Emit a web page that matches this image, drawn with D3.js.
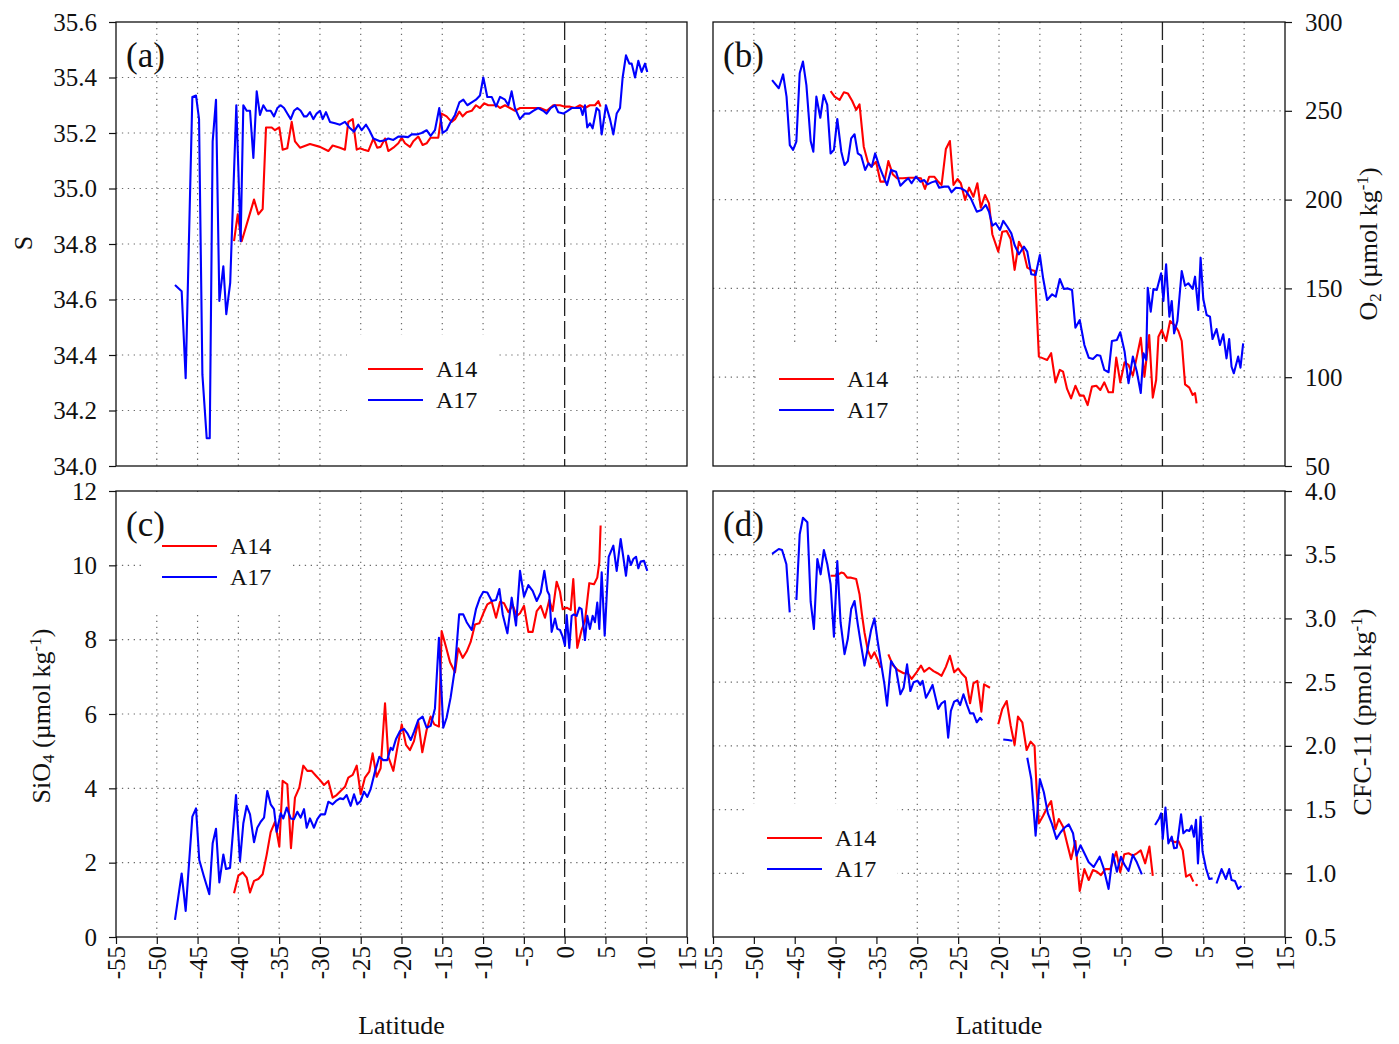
<!DOCTYPE html>
<html>
<head>
<meta charset="utf-8">
<script src="https://cdn.jsdelivr.net/npm/d3@7"></script>
<style>
  html, body { margin: 0; padding: 0; background: #fff; }
  svg { display: block; font-family: "Liberation Serif", "Times New Roman", serif; }
</style>
</head>
<body>
<svg id="chart" width="1399" height="1044"></svg>
<script>
// ---- Section data: [latitude, value]; null marks a break in the section ----
const latTicks = [-55, -50, -45, -40, -35, -30, -25, -20, -15, -10, -5, 0, 5, 10, 15];
const salTicks = [34.0, 34.2, 34.4, 34.6, 34.8, 35.0, 35.2, 35.4, 35.6];
const oxyTicks = [50, 100, 150, 200, 250, 300];
const silTicks = [0, 2, 4, 6, 8, 10, 12];
const cfcTicks = [0.5, 1.0, 1.5, 2.0, 2.5, 3.0, 3.5, 4.0];
const sectionNames = ["A14", "A17"];

const salA14 = [[-40.53,34.81],[-40.08,34.907],[-39.59,34.81],[-38.08,34.96],[-37.55,34.907],[-37.02,34.926],[-36.61,35.22],[-35.91,35.22],[-35.51,35.21],[-34.98,35.22],[-34.57,35.14],[-34.0,35.145],[-33.46,35.24],[-33.06,35.17],[-32.44,35.147],[-31.22,35.16],[-29.99,35.15],[-28.97,35.135],[-28.44,35.155],[-27.54,35.147],[-26.93,35.14],[-26.52,35.24],[-25.98,35.25],[-25.49,35.14],[-25.09,35.145],[-24.6,35.14],[-24.07,35.135],[-23.45,35.18],[-22.98,35.147],[-22.56,35.15],[-22.02,35.18],[-21.62,35.135],[-21.0,35.147],[-20.39,35.163],[-19.98,35.183],[-19.57,35.163],[-18.96,35.15],[-18.55,35.17],[-17.94,35.187],[-17.41,35.157],[-16.92,35.163],[-16.43,35.183],[-15.9,35.183],[-15.49,35.183],[-15.08,35.27],[-14.47,35.26],[-13.86,35.24],[-13.44,35.25],[-12.91,35.277],[-12.5,35.26],[-12.01,35.275],[-11.39,35.28],[-10.87,35.30],[-10.38,35.29],[-9.89,35.307],[-9.36,35.30],[-8.82,35.30],[-8.33,35.30],[-7.92,35.29],[-7.31,35.30],[-6.7,35.29],[-6.09,35.28],[-5.47,35.29],[-4.86,35.29],[-4.25,35.29],[-3.63,35.29],[-3.02,35.29],[-2.2,35.28],[-1.4,35.30],[-0.99,35.30],[-0.57,35.30],[0.04,35.295],[0.66,35.295],[1.27,35.29],[1.88,35.30],[2.49,35.29],[3.1,35.30],[3.72,35.30],[4.13,35.315],[4.41,35.295]];

const salA17 = [[-47.77,34.652],[-46.95,34.63],[-46.46,34.316],[-45.64,35.33],[-45.19,35.335],[-44.82,35.25],[-44.41,34.33],[-43.88,34.10],[-43.51,34.10],[-43.15,35.17],[-42.74,35.32],[-42.33,34.595],[-41.84,34.72],[-41.48,34.547],[-41.0,34.66],[-40.25,35.30],[-39.72,34.81],[-39.39,35.30],[-38.98,35.28],[-38.57,35.28],[-38.16,35.11],[-37.75,35.35],[-37.35,35.265],[-36.94,35.30],[-36.53,35.28],[-36.04,35.28],[-35.63,35.26],[-35.22,35.29],[-34.81,35.30],[-34.40,35.29],[-34.0,35.27],[-33.58,35.25],[-33.18,35.28],[-32.77,35.29],[-32.36,35.28],[-31.95,35.26],[-31.62,35.26],[-31.22,35.275],[-30.81,35.25],[-30.40,35.27],[-29.99,35.28],[-29.66,35.25],[-29.26,35.275],[-28.77,35.24],[-28.15,35.235],[-27.54,35.23],[-26.93,35.24],[-26.40,35.22],[-25.82,35.205],[-25.29,35.23],[-24.88,35.21],[-24.35,35.23],[-23.94,35.21],[-23.45,35.18],[-22.64,35.17],[-22.02,35.174],[-21.62,35.18],[-21.0,35.175],[-20.39,35.187],[-19.78,35.187],[-19.2,35.185],[-18.75,35.195],[-18.14,35.195],[-17.53,35.20],[-16.92,35.21],[-16.43,35.19],[-15.9,35.21],[-15.37,35.29],[-14.96,35.20],[-14.47,35.21],[-14.05,35.235],[-13.44,35.265],[-12.91,35.31],[-12.42,35.32],[-11.93,35.30],[-11.39,35.31],[-10.87,35.32],[-10.38,35.335],[-9.97,35.40],[-9.48,35.33],[-8.94,35.33],[-8.41,35.295],[-7.92,35.33],[-7.31,35.32],[-6.90,35.30],[-6.5,35.35],[-6.1,35.29],[-5.49,35.25],[-4.88,35.27],[-4.34,35.27],[-3.85,35.28],[-3.24,35.29],[-2.63,35.28],[-2.21,35.27],[-1.72,35.29],[-1.18,35.30],[-0.78,35.275],[-0.16,35.27],[0.37,35.28],[0.86,35.29],[1.39,35.29],[1.96,35.29],[2.2,35.265],[2.49,35.30],[2.77,35.22],[3.1,35.235],[3.43,35.217],[3.92,35.29],[4.25,35.28],[4.54,35.195],[5.07,35.30],[5.56,35.25],[5.97,35.195],[6.38,35.27],[6.79,35.29],[7.11,35.40],[7.52,35.48],[7.93,35.45],[8.22,35.45],[8.63,35.40],[9.03,35.46],[9.44,35.42],[9.85,35.45],[10.13,35.42]];

const oxyA14 = [[-40.61,261.1],[-40.12,258],[-39.51,256.1],[-38.98,260.4],[-38.5,259.8],[-37.96,255.5],[-37.48,250.5],[-37.07,253.6],[-36.55,229.8],[-36.06,221.3],[-35.65,218.5],[-35.04,221.3],[-34.51,210.1],[-34.02,210.1],[-33.54,221.7],[-33.01,214.3],[-32.48,212],[-31.8,212],[-30.98,212.3],[-30.16,212.3],[-29.55,212],[-29.06,206],[-28.54,212.9],[-27.93,212.9],[-27.52,210.5],[-27.03,208.2],[-26.5,228.5],[-26.01,233],[-25.57,208.2],[-25.08,211.6],[-24.67,209.2],[-24.15,199.8],[-23.66,206.7],[-23.13,201.6],[-22.65,209.2],[-22.23,195.5],[-21.71,202.6],[-21.22,197.9],[-20.82,180.5],[-20.09,170.7],[-19.6,181.9],[-19.06,182.3],[-18.57,177.8],[-18.09,160.4],[-17.56,176.3],[-17.04,171.6],[-16.54,161.7],[-16.05,160.4],[-15.6,159.8],[-15.12,111.6],[-14.6,110.6],[-14.11,109.7],[-13.62,113.5],[-13.09,97.1],[-12.56,104.1],[-12.16,103.1],[-11.67,93.4],[-11.18,88.1],[-10.65,95.2],[-10.12,89.6],[-9.63,89.6],[-9.15,84.3],[-8.62,94.7],[-8.09,95.2],[-7.6,92.8],[-7.11,97.1],[-6.59,91.5],[-6.06,91.5],[-5.65,111],[-5.16,97.1],[-4.63,108.4],[-4.15,106.9],[-3.62,100.9],[-3.13,111.6],[-2.65,122.2],[-2.2,100.3],[-1.62,123.8],[-1.18,88.5],[-0.77,98.4],[-0.49,122.8],[-0.09,126.6],[0.45,120.4],[0.94,131.6],[1.55,129],[1.95,126],[2.36,120.4],[2.77,96],[3.29,94.1],[3.7,90],[3.99,91],[4.18,85.3]];

const oxyA17 = [[-47.77,267.3],[-46.95,262.7],[-46.42,270.5],[-46.0,258],[-45.6,230.7],[-45.2,228],[-44.8,232.6],[-44.39,271.1],[-43.99,277.7],[-43.57,264.5],[-43.05,233],[-42.72,227],[-42.35,258],[-41.87,246.1],[-41.46,258.9],[-41.02,253.3],[-40.61,226],[-40.2,228],[-39.79,245.4],[-39.3,227],[-38.9,219.5],[-38.5,221.7],[-38.09,234.5],[-37.68,236.8],[-37.28,226],[-36.87,224.7],[-36.38,216.7],[-35.98,220.4],[-35.57,218.5],[-35.16,226],[-34.63,218.5],[-34.23,213.9],[-33.7,208.2],[-33.21,216.7],[-32.6,215.7],[-32.07,207.8],[-31.59,210.1],[-31.1,212],[-30.7,209.2],[-30.16,212.9],[-29.63,210.1],[-29.15,211],[-28.74,208.6],[-28.25,209.7],[-27.72,210.5],[-27.32,206.7],[-26.71,207.3],[-26.18,207.3],[-25.81,204.1],[-25.28,206.7],[-24.67,206.4],[-24.06,204.8],[-23.45,200.7],[-22.72,193.2],[-22.16,194.1],[-21.62,197],[-21.22,193.2],[-20.81,185.3],[-20.4,186.7],[-19.88,182.9],[-19.48,188],[-18.98,184.7],[-18.49,181],[-18.09,174.4],[-17.56,169.2],[-16.95,173.5],[-16.54,170.7],[-16.05,158],[-15.52,157.5],[-15.0,168.8],[-14.6,155.7],[-14.11,143.5],[-13.5,146.7],[-13.05,145.3],[-12.56,155.3],[-12.07,149.7],[-11.59,150],[-11.06,149.1],[-10.65,127.9],[-10.12,132.2],[-9.55,118.1],[-9.02,111],[-8.5,110.3],[-8.01,112.5],[-7.6,112.1],[-7.11,104.1],[-6.59,102.8],[-6.18,120.4],[-5.57,121],[-5.16,125.3],[-4.63,114.4],[-4.15,96.6],[-3.62,111.6],[-3.13,103.1],[-2.65,91.1],[-2.32,113.5],[-1.99,109.7],[-1.8,150.4],[-1.43,136.9],[-1.1,149.7],[-0.69,149.1],[-0.16,158.5],[0.12,142.9],[0.45,163.6],[0.85,134.1],[1.14,142.9],[1.43,124.7],[1.83,131.6],[2.36,159.8],[2.77,151.5],[3.17,152.9],[3.7,149.7],[3.99,156.6],[4.39,137.8],[4.67,167.3],[5.0,144],[5.41,135],[5.82,134.1],[6.13,121.5],[6.62,127.1],[7.04,118.1],[7.44,124.2],[7.84,110.6],[8.17,121.5],[8.46,105.9],[8.74,102.2],[9.27,111.6],[9.55,105.4],[9.88,119.1]];

const silA14 = [[-40.53,1.18],[-40.0,1.65],[-39.47,1.74],[-38.98,1.60],[-38.57,1.20],[-38.08,1.51],[-37.55,1.56],[-37.02,1.69],[-36.53,2.21],[-36.04,2.82],[-35.51,3.10],[-34.98,2.43],[-34.57,4.20],[-34.0,4.11],[-33.55,2.39],[-33.06,3.75],[-32.53,4.02],[-32.04,4.61],[-31.55,4.47],[-31.02,4.47],[-30.49,4.34],[-29.99,4.22],[-29.5,4.09],[-28.97,4.20],[-28.44,3.75],[-27.95,3.82],[-27.46,3.93],[-26.93,4.04],[-26.52,4.29],[-25.98,4.36],[-25.49,4.61],[-25.0,3.84],[-24.48,4.29],[-23.95,4.45],[-23.54,4.94],[-23.05,4.31],[-22.56,4.54],[-22.02,6.29],[-21.62,4.85],[-21.0,4.47],[-20.51,5.09],[-19.97,5.72],[-19.45,5.17],[-18.96,5.03],[-18.47,5.27],[-17.94,5.79],[-17.45,4.97],[-16.92,5.57],[-16.43,5.93],[-15.98,5.72],[-15.41,5.66],[-15.08,8.23],[-14.55,7.81],[-14.05,7.39],[-13.44,7.12],[-13.04,7.77],[-12.5,7.51],[-12.01,7.68],[-11.52,7.94],[-10.99,8.41],[-10.46,8.44],[-9.97,8.71],[-9.48,8.95],[-8.94,9.02],[-8.41,8.59],[-7.92,9.02],[-7.43,8.98],[-6.9,8.74],[-6.37,8.93],[-5.88,8.64],[-5.47,8.71],[-4.98,8.91],[-4.45,8.21],[-3.92,8.21],[-3.42,8.77],[-2.93,8.91],[-2.41,8.59],[-1.88,9.07],[-1.47,8.77],[-0.98,9.56],[-0.57,9.29],[-0.24,8.82],[0.25,8.86],[0.74,8.80],[1.06,9.63],[1.55,7.78],[2.08,8.26],[2.49,8.50],[3.02,9.52],[3.6,9.49],[4.0,9.67],[4.25,10.08],[4.41,11.07]];

const silA17 = [[-47.77,0.46],[-46.95,1.71],[-46.46,0.70],[-45.64,3.24],[-45.19,3.46],[-44.79,2.07],[-44.21,1.62],[-43.56,1.15],[-43.15,2.52],[-42.74,2.91],[-42.33,1.47],[-41.84,2.22],[-41.51,1.83],[-41.02,1.86],[-40.29,3.82],[-39.8,2.04],[-39.39,3.06],[-38.98,3.53],[-38.57,3.30],[-38.08,2.55],[-37.68,2.94],[-37.26,3.10],[-36.85,3.21],[-36.45,3.93],[-36.04,3.57],[-35.63,3.44],[-35.3,2.83],[-34.81,3.33],[-34.49,3.19],[-34.07,3.48],[-33.58,3.19],[-33.18,3.17],[-32.77,3.37],[-32.36,3.21],[-31.95,3.44],[-31.62,2.94],[-31.22,3.19],[-30.73,2.94],[-30.32,3.17],[-29.91,3.30],[-29.38,3.30],[-28.97,3.64],[-28.44,3.57],[-28.03,3.66],[-27.54,3.73],[-27.13,3.71],[-26.72,3.82],[-26.23,3.53],[-25.82,3.84],[-25.42,3.57],[-25.0,3.66],[-24.6,3.91],[-24.19,3.77],[-23.78,3.98],[-23.25,4.45],[-22.72,4.85],[-22.23,4.76],[-21.74,4.76],[-21.33,5.09],[-21.08,5.03],[-20.67,5.33],[-20.18,5.54],[-19.69,5.60],[-19.28,5.48],[-18.87,5.30],[-18.47,5.52],[-17.94,5.84],[-17.41,5.93],[-16.92,5.63],[-16.43,5.68],[-15.9,6.15],[-15.41,8.05],[-14.88,5.63],[-14.47,5.90],[-13.98,6.44],[-13.45,7.23],[-12.93,8.68],[-12.43,8.68],[-12.01,8.47],[-11.39,8.26],[-10.87,8.82],[-10.38,9.13],[-9.97,9.29],[-9.48,9.27],[-8.94,9.04],[-8.41,9.07],[-8.0,9.36],[-7.59,8.68],[-7.02,8.17],[-6.49,9.13],[-5.96,8.38],[-5.47,9.85],[-4.98,9.16],[-4.45,9.47],[-3.92,9.31],[-3.42,9.04],[-2.93,9.27],[-2.49,9.85],[-2.12,9.31],[-1.88,9.20],[-1.59,8.21],[-1.18,8.57],[-0.9,8.29],[-0.57,8.26],[-0.24,8.08],[0.04,7.84],[0.25,8.66],[0.57,7.78],[0.86,8.64],[1.14,8.68],[1.47,8.64],[1.8,8.86],[2.08,8.82],[2.49,7.99],[2.78,8.64],[3.1,8.29],[3.43,8.64],[3.72,8.47],[4.0,9.0],[4.25,8.29],[4.54,9.81],[4.91,8.11],[5.4,10.23],[5.97,10.53],[6.38,9.85],[6.87,10.71],[7.52,9.72],[7.8,10.26],[8.13,10.01],[8.42,10.17],[8.75,10.23],[9.03,9.92],[9.32,10.10],[9.73,10.12],[10.13,9.85]];

const cfcA14 = [[-40.61,3.335],[-39.91,3.335],[-39.3,3.36],[-38.98,3.354],[-38.58,3.32],[-38.09,3.32],[-37.48,3.31],[-37.07,3.19],[-36.79,3.04],[-36.46,2.89],[-36.06,2.752],[-35.65,2.687],[-35.24,2.734],[-34.84,2.674],[-34.51,2.613],null,
  [-33.54,2.718],[-33.01,2.635],[-32.4,2.595],[-31.67,2.57],[-31.18,2.57],[-30.69,2.525],[-30.16,2.57],[-29.55,2.63],[-29.15,2.582],[-28.54,2.613],[-28.01,2.587],[-27.52,2.57],[-27.03,2.55],[-26.5,2.62],[-26.01,2.707],[-25.49,2.577],[-25.0,2.608],[-24.59,2.57],[-24.06,2.535],[-23.54,2.334],[-23.13,2.49],[-22.65,2.51],[-22.16,2.268],[-21.83,2.483],[-21.1,2.456],null,
  [-20.09,2.17],[-19.6,2.29],[-19.06,2.352],[-18.57,2.158],[-18.09,2.007],[-17.68,2.23],[-17.15,2.185],[-16.62,1.967],[-16.13,2.033],[-15.65,2.0],[-15.4,1.66],[-15.12,1.392],[-14.6,1.452],[-14.11,1.515],[-13.62,1.567],[-13.09,1.347],[-12.68,1.426],[-12.16,1.366],[-11.67,1.235],[-11.18,1.11],[-10.65,1.253],[-10.12,0.861],[-9.55,1.033],[-9.02,0.947],[-8.5,1.026],[-8.01,1.012],[-7.52,0.986],[-6.99,1.033],[-6.38,1.033],[-5.65,1.17],[-5.16,1.008],[-4.67,1.15],[-4.15,1.157],[-3.62,1.138],[-3.13,1.157],[-2.65,1.18],[-2.11,1.078],[-1.59,1.21],[-1.18,0.98],null,
  [0.94,1.261],[1.55,1.243],[1.95,1.253],[2.48,1.18],[2.89,0.973],[3.38,0.992],[3.78,0.934],null,
  [4.18,0.908]];

const cfcA17 = [[-47.77,3.506],[-46.95,3.545],[-46.55,3.537],[-46.02,3.425],[-45.61,3.048],null,
  [-44.79,3.145],[-44.39,3.66],[-43.99,3.79],[-43.45,3.754],[-43.05,3.131],[-42.65,2.917],[-42.23,3.466],[-41.83,3.346],[-41.43,3.537],[-41.01,3.425],[-40.61,3.268],[-40.2,2.857],[-39.79,3.45],[-39.39,2.97],[-38.9,2.72],[-38.5,2.84],[-38.09,3.074],[-37.68,3.137],[-37.28,2.954],[-36.87,2.786],[-36.46,2.63],[-36.06,2.766],[-35.65,2.91],[-35.24,3.0],[-34.84,2.817],[-34.43,2.648],[-34.02,2.483],[-33.7,2.315],[-33.21,2.666],[-32.6,2.603],[-32.07,2.405],[-31.67,2.456],[-31.25,2.64],[-30.85,2.43],[-30.45,2.50],[-29.96,2.51],[-29.63,2.478],[-29.35,2.51],[-28.94,2.378],[-28.54,2.425],[-28.13,2.478],[-27.44,2.29],[-27.03,2.334],[-26.62,2.352],[-26.22,2.064],[-25.89,2.274],[-25.49,2.347],[-25.08,2.36],[-24.76,2.32],[-24.35,2.405],[-23.94,2.326],[-23.54,2.255],[-23.13,2.255],[-22.72,2.185],[-22.32,2.22],[-22.04,2.20],null,
  [-19.48,2.05],[-18.9,2.046],[-18.37,2.04],null,
  [-16.54,1.907],[-16.05,1.74],[-15.52,1.295],[-15.0,1.74],[-14.51,1.636],[-14.02,1.47],[-13.5,1.384],[-12.97,1.27],[-12.48,1.32],[-11.99,1.357],[-11.46,1.384],[-10.94,1.314],[-10.52,1.138],[-10.03,1.22],[-9.55,1.157],[-9.02,1.086],[-8.41,1.05],[-7.68,1.13],[-7.2,1.04],[-6.59,0.877],[-6.06,1.15],[-5.57,1.012],[-5.08,1.13],[-4.67,1.07],[-4.15,1.018],[-3.62,1.144],[-3.13,1.086],[-2.52,0.992],null,
  [-0.9,1.379],[-0.41,1.43],[-0.16,1.47],[0.04,1.27],[0.37,1.515],[0.73,1.235],[1.14,1.287],[1.43,1.196],[1.75,1.2],[2.28,1.463],[2.56,1.314],[2.97,1.34],[3.29,1.332],[3.57,1.374],[3.86,1.287],[4.11,1.42],[4.35,1.078],[4.67,1.444],[4.91,1.17],[5.33,1.04],[5.73,0.955],[6.14,0.96],null,
  [6.62,0.92],[7.24,1.033],[7.77,0.955],[8.17,1.033],[8.46,0.947],[8.87,0.94],[9.27,0.877],[9.67,0.90]];

// ---- Layout ----
const FONT = "'Liberation Serif', 'Times New Roman', serif";
const TICK_FS = 25;
const seriesColors = { A14: "#ff0000", A17: "#0000ff" };
const plain = d => String(d);   // hyphen-minus for negative latitudes

const panels = [
  { tag: "(a)", x0: 116, x1: 687, y0: 22, y1: 466, domain: [34.0, 35.6], ticks: salTicks, fmt: d3.format(".1f"),
    side: "left", bottomAxis: false, series: { A14: salA14, A17: salA17 },
    legend: { x: 368, y: 369, box: "below" } },
  { tag: "(b)", x0: 713, x1: 1285, y0: 22, y1: 466, domain: [50, 300], ticks: oxyTicks, fmt: plain,
    side: "right", bottomAxis: false, series: { A14: oxyA14, A17: oxyA17 },
    legend: { x: 779, y: 379, box: "below" } },
  { tag: "(c)", x0: 116, x1: 687, y0: 491, y1: 937, domain: [0, 12], ticks: silTicks, fmt: plain,
    side: "left", bottomAxis: true, series: { A14: silA14, A17: silA17 },
    legend: { x: 162, y: 546, box: "above" } },
  { tag: "(d)", x0: 713, x1: 1285, y0: 491, y1: 937, domain: [0.5, 4.0], ticks: cfcTicks, fmt: d3.format(".1f"),
    side: "right", bottomAxis: true, series: { A14: cfcA14, A17: cfcA17 },
    legend: { x: 767, y: 838, box: "below" } }
];

const svg = d3.select("#chart");

panels.forEach(p => {
  const x = d3.scaleLinear().domain([-55, 15]).range([p.x0, p.x1]);
  const y = d3.scaleLinear().domain(p.domain).range([p.y1, p.y0]);
  const g = svg.append("g");

  // dotted grid
  const grid = g.append("g").attr("stroke", "#6a6a6a").attr("stroke-width", 1.2)
    .attr("stroke-dasharray", "1.3,4.6");
  grid.selectAll("line.v").data(latTicks.filter(t => t > -55 && t < 15 && t !== 0)).join("line")
    .attr("x1", d => x(d)).attr("x2", d => x(d)).attr("y1", p.y0).attr("y2", p.y1);
  grid.selectAll("line.h").data(p.ticks.slice(1, -1)).join("line")
    .attr("x1", p.x0).attr("x2", p.x1).attr("y1", d => y(d)).attr("y2", d => y(d));

  // legend background clears the grid behind it
  const L = p.legend;
  const bx0 = L.x - 21, bx1 = L.x + 130;
  const by0 = L.box === "below" ? L.y - 34 : p.y0 + 1;
  const by1 = L.box === "below" ? p.y1 - 1 : L.y + 67;
  g.append("rect").attr("x", bx0).attr("y", by0).attr("width", bx1 - bx0).attr("height", by1 - by0)
    .attr("fill", "#fff");

  // equator
  g.append("line").attr("x1", x(0)).attr("x2", x(0)).attr("y1", p.y0).attr("y2", p.y1)
    .attr("stroke", "#222").attr("stroke-width", 1.3).attr("stroke-dasharray", "18,5");

  // section lines
  const line = d3.line().defined(d => d !== null)
    .x(d => x(d[0])).y(d => y(d[1]));
  sectionNames.forEach(name => {
    const data = p.series[name];
    g.append("path").datum(data).attr("d", line).attr("fill", "none")
      .attr("stroke", seriesColors[name]).attr("stroke-width", 2.1).attr("stroke-linejoin", "round");
    // isolated samples shown as dots
    const lone = data.filter((d, i) => d !== null && (i === 0 || data[i - 1] === null) &&
      (i === data.length - 1 || data[i + 1] === null));
    g.selectAll(null).data(lone).join("circle")
      .attr("cx", d => x(d[0])).attr("cy", d => y(d[1])).attr("r", 1.3)
      .attr("fill", seriesColors[name]);
  });

  // legend
  sectionNames.forEach((name, i) => {
    const ly = L.y + i * 31;
    g.append("line").attr("x1", L.x).attr("x2", L.x + 55).attr("y1", ly).attr("y2", ly)
      .attr("stroke", seriesColors[name]).attr("stroke-width", 2.1);
    g.append("text").attr("x", L.x + 68).attr("y", ly + 8).text(name)
      .attr("font-size", 24).attr("font-family", FONT).attr("fill", "#111");
  });

  // frame
  g.append("rect").attr("x", p.x0).attr("y", p.y0).attr("width", p.x1 - p.x0).attr("height", p.y1 - p.y0)
    .attr("fill", "none").attr("stroke", "#111").attr("stroke-width", 1.3);

  // value axis
  const yAxis = (p.side === "left" ? d3.axisLeft(y) : d3.axisRight(y))
    .tickValues(p.ticks).tickFormat(p.fmt).tickSize(7).tickPadding(p.side === "left" ? 12 : 13).tickSizeOuter(0);
  const ya = g.append("g").attr("transform", `translate(${p.side === "left" ? p.x0 : p.x1},0)`).call(yAxis);
  ya.select(".domain").remove();
  ya.selectAll("line").attr("stroke", "#111").attr("stroke-width", 1.2);
  ya.selectAll("text").attr("font-size", TICK_FS).attr("font-family", FONT).attr("fill", "#111");

  // latitude axis
  if (p.bottomAxis) {
    const xAxis = d3.axisBottom(x).tickValues(latTicks).tickFormat(plain).tickSize(7).tickSizeOuter(0);
    const xa = g.append("g").attr("transform", `translate(0,${p.y1})`).call(xAxis);
    xa.select(".domain").remove();
    xa.selectAll("line").attr("stroke", "#111").attr("stroke-width", 1.2);
    xa.selectAll("text")
      .attr("transform", "rotate(-90)").attr("x", -9).attr("y", 0).attr("dy", "0.35em")
      .style("text-anchor", "end")
      .attr("font-size", TICK_FS).attr("font-family", FONT).attr("fill", "#111");
    g.append("text").attr("x", (p.x0 + p.x1) / 2).attr("y", 1034).attr("text-anchor", "middle")
      .attr("font-size", 26).attr("font-family", FONT).attr("fill", "#111").text("Latitude");
  }

  // panel tag
  g.append("text").attr("x", p.x0 + 10).attr("y", p.y0 + 45).text(p.tag)
    .attr("font-size", 35).attr("font-family", FONT).attr("fill", "#111");
});

// axis titles
function title(cx, cy, parts) {
  const t = svg.append("text").attr("transform", `translate(${cx},${cy}) rotate(-90)`)
    .attr("text-anchor", "middle").attr("dy", "0.35em")
    .attr("font-size", 26).attr("font-family", FONT).attr("fill", "#111");
  parts.forEach(([s, kind]) => {
    const ts = t.append("tspan").text(s);
    if (kind === "sub") ts.attr("font-size", 17).attr("baseline-shift", "-25%");
    if (kind === "sup") ts.attr("font-size", 17).attr("baseline-shift", "55%");
  });
}
title(23, 243, [["S"]]);
title(1368, 244, [["O"], ["2", "sub"], [" (\u00b5mol kg"], ["-1", "sup"], [")"]]);
title(41, 716, [["SiO"], ["4", "sub"], [" (\u00b5mol kg"], ["-1", "sup"], [")"]]);
title(1362, 712, [["CFC-11 (pmol kg"], ["-1", "sup"], [")"]]);
</script>
</body>
</html>
